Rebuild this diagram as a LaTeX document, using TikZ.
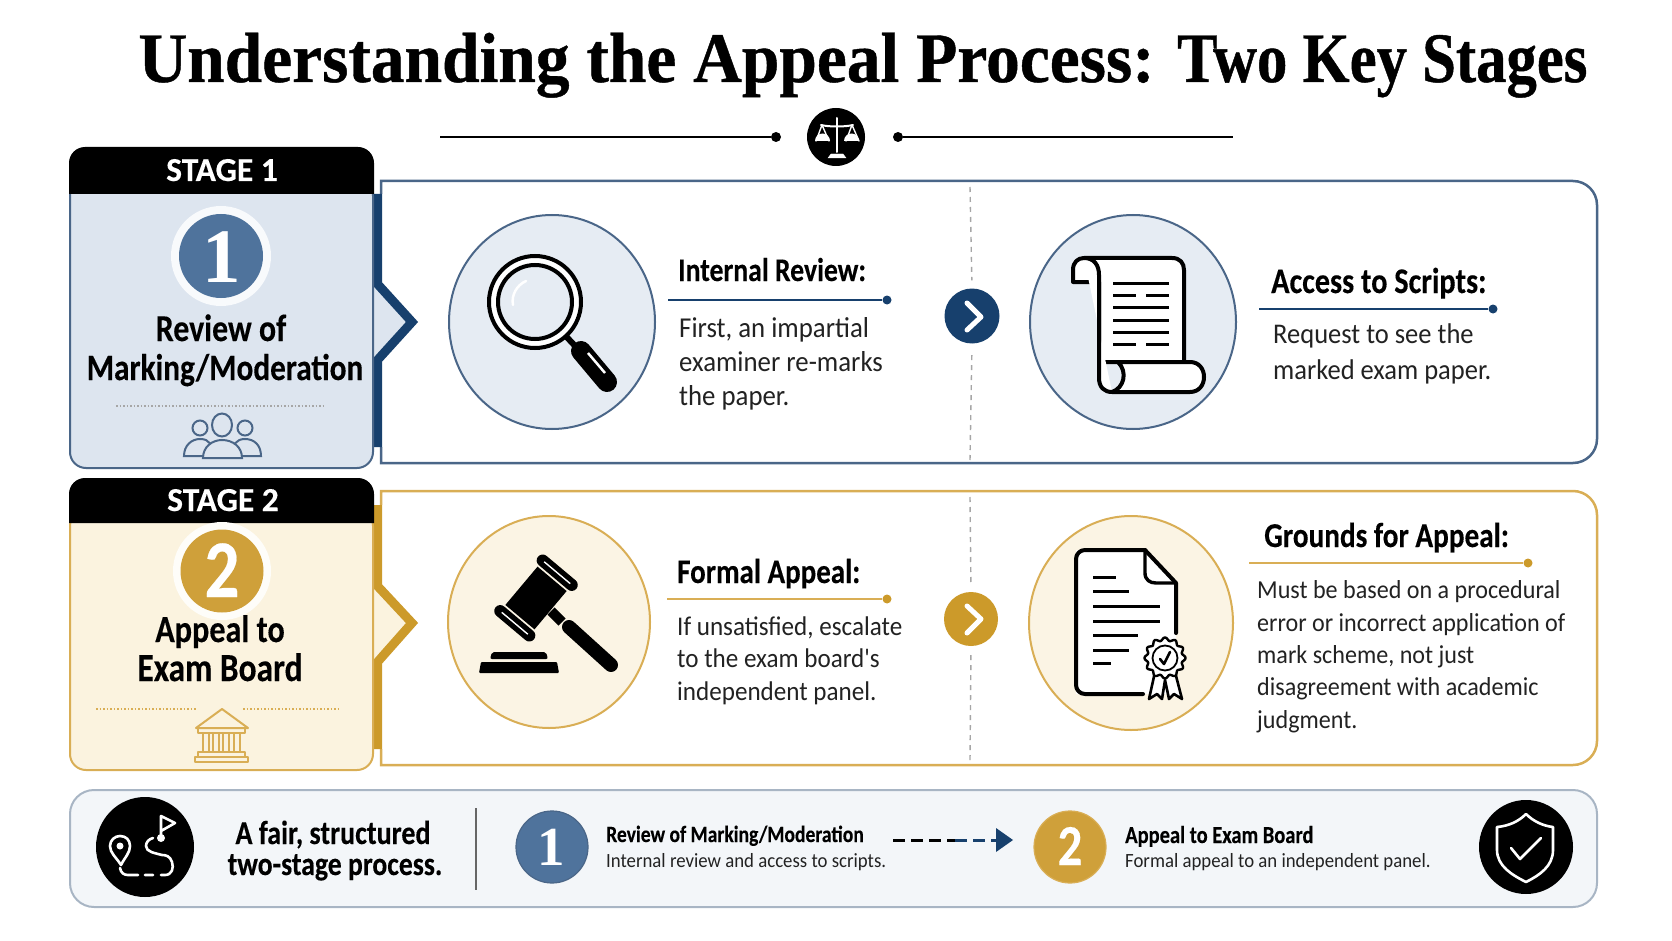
\documentclass[tikz,border=0pt]{standalone}
\usepackage{fontspec}
\usetikzlibrary{shapes.geometric}
\setmainfont{Carlito}[BoldFeatures={FakeBold=0.25}]
\newfontfamily\titlefont[FakeStretch=0.95,BoldFeatures={FakeStretch=0.95,FakeBold=0.6}]{Liberation Serif}
\newfontfamily\titlefontb[FakeStretch=0.855,BoldFeatures={FakeStretch=0.855,FakeBold=0.6}]{Liberation Serif}
\newfontfamily\numfont{Liberation Serif}
\newfontfamily\headfont[FakeStretch=0.84,BoldFeatures={FakeStretch=0.84,FakeBold=0.25}]{Carlito}
\newfontfamily\bodyfont[FakeStretch=0.93]{Carlito}
\definecolor{navy}{HTML}{17406D}
\definecolor{blueedge}{HTML}{4A6688}
\definecolor{bluefill}{HTML}{DDE5EF}
\definecolor{bluebadge}{HTML}{4F739C}
\definecolor{bluecirc}{HTML}{E6ECF3}
\definecolor{goldstrip}{HTML}{CC9A2A}
\definecolor{goldedge}{HTML}{D9AE55}
\definecolor{goldfill}{HTML}{FBF3DF}
\definecolor{goldbadge}{HTML}{CFA03A}
\definecolor{goldcirc}{HTML}{FBF4E4}
\definecolor{barfill}{HTML}{F3F6F9}
\definecolor{baredge}{HTML}{A8B5C4}
\definecolor{inkgray}{HTML}{222222}
\tikzset{
  txt/.style={inner sep=0pt,anchor=base},
  headtxt/.style={txt,anchor=base west,font=\headfont\bfseries\fontsize{#1}{36}\selectfont},
  bigtxt/.style={txt,font=\headfont\bfseries\fontsize{#1}{44}\selectfont},
  stagetxt/.style={txt,text=white,font=\bfseries\fontsize{33.5}{36}\selectfont},
  bodytxt/.style 2 args={inner sep=0pt,anchor=north west,align=left,text=inkgray,font=\bodyfont\fontsize{#1}{#2}\selectfont},
  smallhead/.style={txt,anchor=base west,font=\headfont\bfseries\fontsize{#1}{28}\selectfont},
  smallbody/.style={txt,anchor=base west,text=inkgray,font=\bodyfont\fontsize{20.2}{25}\selectfont},
  bigcirc/.style={ellipse,minimum width=206pt,minimum height=214pt,inner sep=0pt,line width=2pt},
  ruledot/.style={circle,minimum size=9pt,inner sep=0pt,fill=#1},
  numcirc/.style={circle,minimum size=#1,inner sep=0pt},
  thinrule/.style={line width=2.2pt},
  divide/.style={gray!70,line width=1.4pt,dash pattern=on 5pt off 5pt},
  ink/.style={line width=4pt,line join=round,line cap=round,black},
  whiteink/.style={line width=2.6pt,line join=round,line cap=round,white},
}
\begin{document}
\begin{tikzpicture}[x=1pt,y=-1pt]
  \useasboundingbox (0,0) rectangle (1672,941);

  % title
  \node[txt,font=\bfseries\fontsize{71}{80}\selectfont] (title) at (863,82) {\titlefont\bfseries Understanding the Appeal Process: \titlefontb\bfseries Two Key Stages};
  \node[circle,fill=black,minimum size=58pt,inner sep=0pt] (scale) at (836,137) {};
  \node[circle,fill=black,minimum size=10pt,inner sep=0pt] (dotl) at (776,137) {};
  \node[circle,fill=black,minimum size=10pt,inner sep=0pt] (dotr) at (898,137) {};
  \coordinate (linel) at (440,137);
  \coordinate (liner) at (1233,137);
  \draw[line width=1.6pt] (linel) -- (dotl);
  \draw[line width=1.6pt] (dotr) -- (liner);
  \draw[whiteink,line width=2pt] (837,118) -- (837,152);
  \draw[whiteink,line width=2pt] (821,125) .. controls (829,127) and (845,127) .. (853,125);
  \draw[white,fill=white] (828,158) -- (831,154) -- (843,154) -- (846,158) -- cycle;
  \draw[whiteink,line width=1.4pt] (816,141) -- (822,125) -- (829,141);
  \draw[whiteink,line width=1.4pt] (846,141) -- (852,125) -- (859,141);
  \fill[white] (815,141) arc[start angle=180,end angle=360,radius=7.5] -- cycle;
  \fill[white] (844,141) arc[start angle=180,end angle=360,radius=7.5] -- cycle;

  % first row
  \draw[blueedge,line width=2.5pt,fill=white,rounded corners=24pt] (381,181) -- (1597,181) -- (1597,463) [sharp corners] -- (381,463) -- cycle;
  \fill[white] (380,194) rectangle (383,447);
  \fill[bluefill] (370,282) -- (412,322) -- (370,360) -- cycle;
  \draw[navy,line width=9pt,miter limit=10] (377.5,194) -- (377.5,284) -- (412,322) -- (377.5,360) -- (377.5,447);
  \draw[blueedge,line width=2pt,fill=bluefill,rounded corners=16pt] (70,180) -- (70,468) -- (373,468) -- (373,180) -- cycle;
  \fill[black,rounded corners=16pt] (69,194) -- (69,147) -- (374,147) [sharp corners] -- (374,194) -- cycle;
  \node[stagetxt] (stage1) at (222,181) {STAGE 1};
  \node[numcirc=100pt,fill=white!80!bluefill] (ring1) at (221,256) {};
  \node[numcirc=84pt,fill=bluebadge] (num1) at (221,256) {};
  \node[txt,text=white,font=\numfont\bfseries\fontsize{77}{80}\selectfont] (num1t) at (222,282) {1};
  \node[bigtxt=38] (rev1) at (221,341) {Review of};
  \node[bigtxt=37.2] (rev2) at (225,380) {Marking/Moderation};
  \draw[gray!70,line width=1.2pt,dash pattern=on 1.5pt off 2pt] (116,406) -- (326,406);
  % people
  \begin{scope}[blueedge,line width=2pt,fill=bluefill]
    \draw[fill=bluefill] (184,456) .. controls (184,445) and (192,439) .. (200,439) .. controls (210,439) and (212,445) .. (214,456) -- cycle;
    \draw[fill=bluefill] (231,456) .. controls (232,445) and (236,439) .. (245,439) .. controls (254,439) and (261,445) .. (261,456) -- cycle;
    \draw (200,428) circle[radius=7.5];
    \draw (245,428) circle[radius=7.5];
    \draw[fill=bluefill] (203,458) .. controls (203,447) and (212,440) .. (222,440) .. controls (233,440) and (242,447) .. (242,458) -- cycle;
    \draw (222,425) ellipse[x radius=10,y radius=11.5];
  \end{scope}

  \node[bigcirc,draw=blueedge,fill=bluecirc] (lens) at (552,322) {};
  % magnifier
  \draw[black,line width=6pt] (562,332) -- (577,348);
  \draw[black,line width=20pt,line cap=round] (581,351) -- (607,382);
  \draw[white,line width=2.5pt] (588,353) -- (605,373);
  \draw[black,line width=4pt,fill=white] (535,302) circle[radius=46];
  \draw[black,line width=4pt,fill=bluecirc] (535,302) circle[radius=37];
  \draw[white,line width=2.5pt,line cap=round] (513,305) .. controls (511,295) and (517,285) .. (526,281);

  \node[headtxt=33] (h1) at (678,281) {Internal Review:};
  \coordinate (r1) at (668,300);
  \node[ruledot=navy] (d1) at (887,300) {};
  \draw[navy,thinrule] (r1) -- (d1);
  \node[bodytxt={28.8}{34}] (b1) at (679,317) {First, an impartial\\examiner re-marks\\the paper.};

  \node[numcirc=55pt,fill=navy] (go1) at (972,316) {};
  \coordinate (dt1) at (970,187);
  \coordinate (db1) at (970,460);
  \draw[divide,shorten >=8pt] (dt1) -- (go1.north);
  \draw[divide,shorten >=8pt] (db1) -- (go1.south);
  \draw[white,line width=5pt,line cap=round,line join=round] (967,303) -- (981,317) -- (967,330);

  \node[bigcirc,draw=blueedge,fill=bluecirc] (roll) at (1133,322) {};
  % scroll
  \draw[ink,fill=white] (1099,282) -- (1073,282) -- (1073,270) .. controls (1073,262) and (1078,258) .. (1084,258) -- (1172,258) .. controls (1180,258) and (1184,263) .. (1184,270) -- (1184,362) -- (1099,362) -- cycle;
  \draw[ink,fill=white] (1084,258) .. controls (1094,258) and (1099,265) .. (1099,275) -- (1099,378) .. controls (1099,387) and (1104,392) .. (1112,392) -- (1190,392) .. controls (1199,392) and (1204,385) .. (1204,377) .. controls (1204,369) and (1199,362) .. (1190,362) -- (1118,362) .. controls (1128,372) and (1124,388) .. (1112,392);
  \foreach \y in {283,307,320,332} {
    \draw[line width=3pt] (1113,\y) -- (1169,\y);
  }
  \foreach \y in {295,344} {
    \draw[line width=3pt] (1113,\y) -- (1136,\y) (1146,\y) -- (1169,\y);
  }

  \node[headtxt=36] (h2) at (1271,293) {Access to Scripts:};
  \coordinate (r2) at (1259,309);
  \node[ruledot=navy] (d2) at (1493,309) {};
  \draw[navy,thinrule] (r2) -- (d2);
  \node[bodytxt={28.5}{35.5}] (b2) at (1273,324) {Request to see the\\marked exam paper.};

  % second row
  \draw[goldedge,line width=2.5pt,fill=white,rounded corners=24pt] (381,491) -- (1597,491) -- (1597,765) [sharp corners] -- (381,765) -- cycle;
  \fill[white] (380,505) rectangle (383,749);
  \fill[goldfill] (370,585) -- (412,623) -- (370,662) -- cycle;
  \draw[goldstrip,line width=9pt,miter limit=10] (377.5,505) -- (377.5,586) -- (412,623) -- (377.5,662) -- (377.5,749);
  \draw[goldedge,line width=2pt,fill=goldfill,rounded corners=16pt] (70,510) -- (70,770) -- (373,770) -- (373,510) -- cycle;
  \fill[black,rounded corners=16pt] (69,523) -- (69,478) -- (374,478) [sharp corners] -- (374,523) -- cycle;
  \node[stagetxt] (stage2) at (223,511) {STAGE 2};
  \node[numcirc=98pt,fill=white!80!goldfill] (ring2) at (222,571) {};
  \node[numcirc=83pt,fill=goldbadge] (num2) at (222,571) {};
  \node[txt,text=white,font=\headfont\bfseries\fontsize{82}{84}\selectfont] (num2t) at (222,597) {2};
  \node[bigtxt=38.3] (app1) at (220,642) {Appeal to};
  \node[bigtxt=39.8] (app2) at (220,681) {Exam Board};
  \draw[goldedge,line width=1.2pt,dash pattern=on 1.5pt off 2pt] (96,709) -- (197,709) (243,709) -- (341,709);
  % temple
  \begin{scope}[goldedge,line width=2pt,line join=round]
    \draw (222,709) -- (248,728) -- (196,728) -- cycle;
    \draw (198,728) rectangle (245,733);
    \foreach \x in {203,213,223,234} {
      \draw (\x,733) rectangle (\x+6,752);
    }
    \draw (198,752) rectangle (245,757);
    \draw (195,757) rectangle (248,762);
  \end{scope}

  \node[bigcirc,minimum width=202pt,minimum height=212pt,draw=goldedge,fill=goldcirc] (gavel) at (549,622) {};
  % gavel
  \draw[line width=10pt] (551,611) -- (562,622);
  \draw[line width=14pt,line cap=round] (569,627) -- (611,665);
  \begin{scope}[shift={(536,598)},rotate=-40]
    \fill[black] (-19,-25) rectangle (19,25);
    \foreach \y in {-33,33} {
      \draw[line width=12pt,line cap=round] (-19,\y) -- (19,\y);
      \draw[white,line width=1.4pt] (-17,\y) -- (17,\y);
    }
  \end{scope}
  \fill[black,rounded corners=2pt] (490,659) -- (492,652) -- (546,652) -- (548,659) -- cycle;
  \fill[black,rounded corners=1pt] (479,673) -- (481,662) -- (557,662) -- (559,673) -- cycle;

  \node[headtxt=34.5] (h3) at (677,583) {Formal Appeal:};
  \coordinate (r3) at (667,599);
  \node[ruledot=goldstrip] (d3) at (887,599) {};
  \draw[goldedge,thinrule] (r3) -- (d3);
  \node[bodytxt={27}{32.5}] (b3) at (677,616.5) {If unsatisfied, escalate\\to the exam board's\\independent panel.};

  \node[numcirc=54pt,fill=goldstrip] (go2) at (971,619) {};
  \coordinate (dt2) at (970,497);
  \coordinate (db2) at (970,760);
  \draw[divide,shorten >=8pt] (dt2) -- (go2.north);
  \draw[divide,shorten >=8pt] (db2) -- (go2.south);
  \draw[white,line width=5pt,line cap=round,line join=round] (967,606) -- (981,619) -- (967,633);

  \node[bigcirc,minimum width=204pt,minimum height=214pt,draw=goldedge,fill=goldcirc] (sheet) at (1131,623) {};
  % document with seal
  \fill[white] (1076,550) -- (1145,550) -- (1176,583) -- (1176,694) -- (1076,694) -- cycle;
  \draw[ink,rounded corners=9pt] (1143,694) -- (1076,694) -- (1076,550) -- (1145,550);
  \draw[ink] (1145,550) -- (1176,583) -- (1176,633);
  \draw[ink,line width=3.4pt] (1145,550) -- (1145,573) .. controls (1145,580) and (1150,583) .. (1156,583) -- (1176,583);
  \foreach \y/\e in {577/1116,591/1129,606/1160,621/1160,635/1138,650/1129,663/1111} {
    \draw[line width=3pt] (1093,\y) -- (\e,\y);
  }
  \draw[ink,line width=2.6pt,fill=white] (1155,672) -- (1149,699) -- (1157,694) -- (1162,699) -- (1165,680) -- (1169,699) -- (1174,694) -- (1182,699) -- (1175,672);
  \begin{scope}[shift={(1165,658)}]
    \draw[ink,line width=2.4pt,fill=white] plot[domain=0:360,samples=97,smooth] (\x:{19+1.6*cos(12*\x)}) -- cycle;
    \draw[ink,line width=1.8pt] (0,0) circle[radius=12.5];
    \draw[ink,line width=2.6pt] (-5,1) -- (-1,6) -- (5,-6);
  \end{scope}

  \node[headtxt=34.8] (h4) at (1264,547) {Grounds for Appeal:};
  \coordinate (r4) at (1249,563);
  \node[ruledot=goldstrip] (d4) at (1528,563) {};
  \draw[goldedge,thinrule] (r4) -- (d4);
  \node[bodytxt={25.9}{32.4}] (b4) at (1257,580.5) {Must be based on a procedural\\error or incorrect application of\\mark scheme, not just\\disagreement with academic\\judgment.};

  % bottom bar
  \draw[baredge,line width=2pt,fill=barfill,rounded corners=24pt] (70,790) rectangle (1597,907);
  \node[ellipse,fill=black,minimum width=98pt,minimum height=100pt,inner sep=0pt] (route) at (145,847) {};
  \draw[whiteink] (121,865) .. controls (116,857) and (110,853) .. (110,846) .. controls (110,840) and (115,836) .. (120,836) .. controls (126,836) and (130,840) .. (130,846) .. controls (130,853) and (125,857) .. (121,865) -- cycle;
  \fill[white] (120,846) circle[radius=3.5];
  \draw[whiteink] (120,868) .. controls (121,873) and (124,875) .. (128,875) -- (138,875) (145,875) -- (153,875) (161,875) -- (165,875) .. controls (172,875) and (174,868) .. (172,862) .. controls (170,856) and (166,855) .. (162,855) .. controls (155,853) and (146,852) .. (146,846) .. controls (146,842) and (149,839) .. (153,838);
  \fill[white] (161,838) circle[radius=4];
  \draw[whiteink] (161,838) -- (161,816) -- (175,823) -- (161,831);

  \node[bigtxt=33.4] (fair1) at (333,844) {A fair, structured};
  \node[bigtxt=33] (fair2) at (335,875) {two-stage process.};
  \coordinate (st) at (476,808);
  \coordinate (sb) at (476,890);
  \draw[gray!80!black,line width=1.4pt] (st) -- (sb);

  \node[numcirc=72pt,fill=bluebadge,draw=blueedge,line width=1.2pt] (mini1) at (552,847) {};
  \node[txt,text=white,font=\numfont\bfseries\fontsize{55}{60}\selectfont] (mini1t) at (551,865) {1};
  \node[smallhead=23.3] (m1a) at (606,842) {Review of Marking/Moderation};
  \node[smallbody] (m1b) at (606,867) {Internal review and access to scripts.};

  \coordinate (aa) at (893,840);
  \coordinate (ab) at (955,840);
  \coordinate (ac) at (998,840);
  \draw[black,line width=3pt,dash pattern=on 12pt off 6pt] (aa) -- (ab);
  \draw[navy,line width=3pt,dash pattern=on 12pt off 6pt] (ab) -- (ac);
  \fill[navy] (996,828) -- (1013,840) -- (996,852) -- cycle;

  \node[numcirc=72pt,fill=goldbadge,draw=goldedge,line width=1.2pt] (mini2) at (1070,847) {};
  \node[txt,text=white,font=\headfont\bfseries\fontsize{58}{60}\selectfont] (mini2t) at (1070,865) {2};
  \node[smallhead=24.4] (m2a) at (1125,843) {Appeal to Exam Board};
  \node[smallbody] (m2b) at (1125,867) {Formal appeal to an independent panel.};

  \node[circle,fill=black,minimum size=94pt,inner sep=0pt] (guard) at (1526,847) {};
  \draw[whiteink] (1526,814) .. controls (1534,822) and (1544,826) .. (1553,827) -- (1553,850) .. controls (1553,866) and (1540,875) .. (1526,882) .. controls (1512,875) and (1497,866) .. (1497,850) -- (1497,827) .. controls (1508,826) and (1518,822) .. (1526,814) -- cycle;
  \draw[whiteink] (1511,848) -- (1520,859) -- (1541,838);
\end{tikzpicture}
\end{document}
